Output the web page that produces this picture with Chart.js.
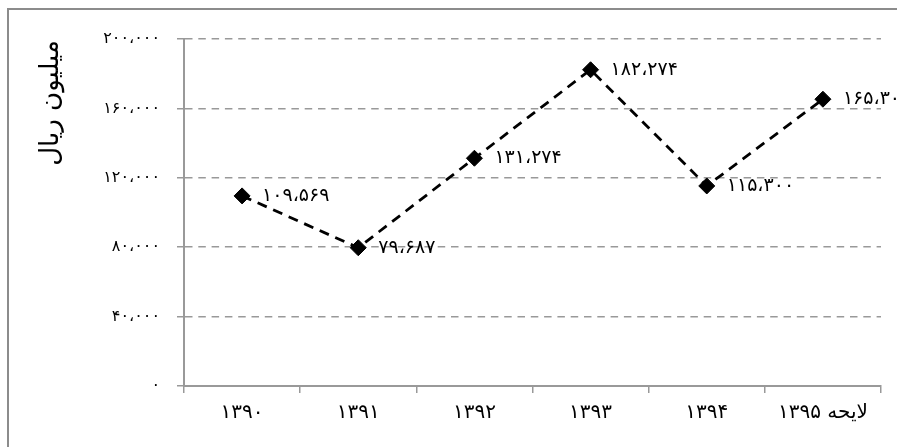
<!DOCTYPE html>
<html>
<head>
<meta charset="utf-8">
<script src="https://cdn.jsdelivr.net/npm/chart.js"></script>
<style>
  html, body { margin: 0; padding: 0; background: #fff; }
</style>
</head>
<body>
<canvas id="chart" width="897" height="447"></canvas>
<script>
var years = ["۱۳۹۰", "۱۳۹۱", "۱۳۹۲", "۱۳۹۳", "۱۳۹۴", "لایحه ۱۳۹۵"];
var budget = [109569, 79687, 131274, 182274, 115300, 165300];
var yTicks = [0, 40000, 80000, 120000, 160000, 200000];
var yTitle = "میلیون ریال";

var FONT = "'DejaVu Sans', sans-serif";

// persian digits, arabic comma as thousands separator
function toFa(n) {
  var s = String(Math.round(n)).replace(/\B(?=(\d{3})+(?!\d))/g, "،");
  return s.replace(/\d/g, function(d) { return "۰۱۲۳۴۵۶۷۸۹"[d]; });
}

var extras = {
  id: 'extras',
  beforeDraw: function(chart) {
    var ctx = chart.ctx, area = chart.chartArea;
    ctx.save();
    ctx.strokeStyle = '#8c8c8c';
    ctx.lineWidth = 2;
    ctx.beginPath();
    ctx.moveTo(8, chart.height);
    ctx.lineTo(8, 9);
    ctx.lineTo(chart.width, 9);
    ctx.stroke();

    ctx.translate(area.left - 133, area.top + 64);
    ctx.rotate(-Math.PI / 2);
    ctx.fillStyle = '#000';
    ctx.font = "26px " + FONT;
    ctx.textAlign = 'center';
    ctx.textBaseline = 'middle';
    ctx.fillText(yTitle, 0, 0);
    ctx.restore();
  },
  afterDatasetsDraw: function(chart) {
    var ctx = chart.ctx;
    var meta = chart.getDatasetMeta(0);
    ctx.save();
    ctx.fillStyle = '#000';
    ctx.font = "19px " + FONT;
    ctx.textAlign = 'left';
    ctx.textBaseline = 'middle';
    meta.data.forEach(function(p, i) {
      ctx.fillText(toFa(budget[i]), p.x + 20, p.y);
    });
    ctx.restore();
  }
};

new Chart(document.getElementById("chart"), {
  type: 'line',
  data: {
    labels: years,
    datasets: [{
      data: budget,
      borderColor: '#000',
      borderWidth: 2.8,
      borderDash: [10, 7],
      tension: 0,
      pointStyle: 'rectRot',
      pointRadius: 8,
      pointBackgroundColor: '#000',
      pointBorderColor: '#000',
      pointBorderWidth: 1
    }]
  },
  options: {
    responsive: false,
    animation: false,
    layout: { padding: { top: 39, right: 16, left: 0, bottom: 0 } },
    plugins: { legend: { display: false }, tooltip: { enabled: false } },
    scales: {
      x: {
        offset: true,
        afterFit: function(s) { s.height = 61; },
        grid: { drawOnChartArea: false, offset: true, color: '#999', tickLength: 7, lineWidth: 1.5 },
        border: { color: '#999', width: 2 },
        ticks: { color: '#000', font: { family: FONT, size: 20 }, padding: 8, maxRotation: 0 }
      },
      y: {
        min: 0,
        max: 200000,
        afterFit: function(s) { s.width = 184; },
        afterBuildTicks: function(s) { s.ticks = yTicks.map(function(v) { return { value: v }; }); },
        grid: { color: '#999', lineWidth: 1.5, tickLength: 7 },
        border: { color: '#999', width: 2, dash: [7.5, 5.8] },
        ticks: {
          color: '#000',
          font: { family: FONT, size: 16 },
          padding: 17,
          callback: function(v) { return toFa(v); }
        }
      }
    }
  },
  plugins: [extras]
});
</script>
</body>
</html>
